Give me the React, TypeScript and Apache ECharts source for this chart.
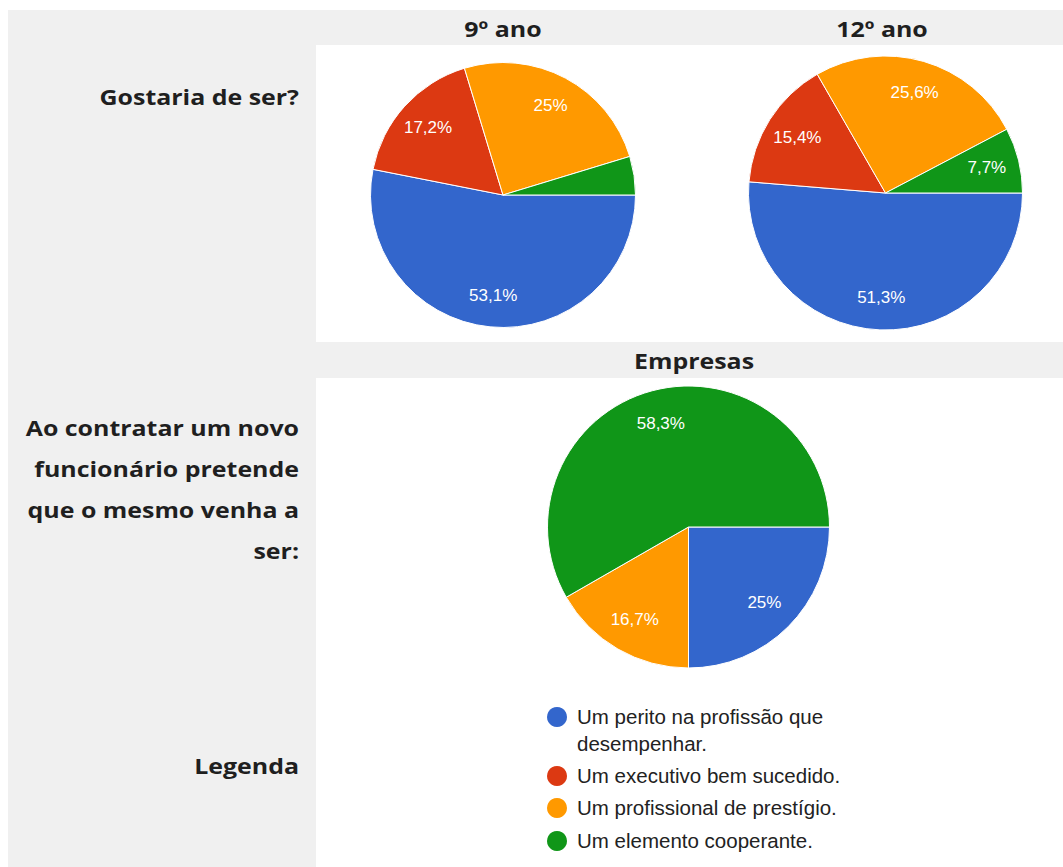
import React, { useEffect, useRef } from "react";
import * as echarts from "echarts";

// ---- data ----
const categories = [
  "Um perito na profissão que desempenhar.",
  "Um executivo bem sucedido.",
  "Um profissional de prestígio.",
  "Um elemento cooperante.",
];
const legendLines = [
  ["Um perito na profissão que", "desempenhar."],
  ["Um executivo bem sucedido."],
  ["Um profissional de prestígio."],
  ["Um elemento cooperante."],
];
const sliceColors = ["#3366cc", "#dc3912", "#ff9900", "#109618"];
const values9ano = [53.1, 17.2, 25, 4.7];
const values12ano = [51.3, 15.4, 25.6, 7.7];
const valuesEmpresas = [25, 0, 16.7, 58.3];
const columnTitles = ["9º ano", "12º ano", "Empresas"];
const rowLabel1 = ["Gostaria de ser?"];
const rowLabel2 = ["Ao contratar um novo", "funcionário pretende", "que o mesmo venha a", "ser:"];
const rowLabel3 = ["Legenda"];

const BOLD_FONT = "'Open Sans', sans-serif";
const CHART_FONT = "'Liberation Sans', Arial, sans-serif";

function fmt(v: number) {
  return String(v).replace(".", ",") + "%";
}

function pieSeries(values: number[], center: number[], r: number) {
  const data = values.map((v, i) => ({
    name: categories[i],
    value: v,
    itemStyle: { color: sliceColors[i] },
  }));
  return [
    {
      type: "pie",
      center,
      radius: [0, r],
      startAngle: 0,
      clockwise: true,
      silent: true,
      label: { show: false },
      labelLine: { show: false },
      itemStyle: { borderColor: "#ffffff", borderWidth: 1 },
      data,
    },
    {
      type: "pie",
      center,
      radius: [r * 0.48, r],
      startAngle: 0,
      clockwise: true,
      silent: true,
      z: 5,
      itemStyle: { color: "rgba(0,0,0,0)", borderWidth: 0 },
      label: {
        show: true,
        position: "inside",
        color: "#ffffff",
        fontFamily: CHART_FONT,
        fontSize: 17,
        formatter: (p: any) => (p.value >= 5 ? fmt(p.value) : ""),
      },
      labelLine: { show: false },
      data: values.map((v, i) => ({ name: categories[i], value: v })),
    },
  ];
}

export default function App() {
  const ref = useRef<HTMLDivElement>(null);
  useEffect(() => {
    if (!ref.current) return;
    const chart = echarts.init(ref.current, null, { renderer: "svg" });

    const boldText = (text: string, x: number, y: number, align: string) => ({
      type: "text",
      x,
      y,
      z: 10,
      scaleX: 1.16,
      style: {
        text,
        fontFamily: BOLD_FONT,
        fontWeight: "bold",
        fontSize: 21.5,
        fill: "#1f1f1f",
        align,
        verticalAlign: "middle",
      },
    });

    const graphics: any[] = [
      { type: "rect", shape: { x: 8, y: 10, width: 1055, height: 857 }, style: { fill: "#f0f0f0" }, z: -10 },
      { type: "rect", shape: { x: 316, y: 45, width: 747, height: 297 }, style: { fill: "#ffffff" }, z: -9 },
      { type: "rect", shape: { x: 316, y: 378, width: 747, height: 489 }, style: { fill: "#ffffff" }, z: -9 },
      boldText(columnTitles[0], 503, 29, "center"),
      boldText(columnTitles[1], 882, 29, "center"),
      boldText(columnTitles[2], 694, 361, "center"),
    ];
    rowLabel1.forEach((t, i) => graphics.push(boldText(t, 299, 97 + i * 41, "right")));
    rowLabel2.forEach((t, i) => graphics.push(boldText(t, 299, 428 + i * 41, "right")));
    rowLabel3.forEach((t, i) => graphics.push(boldText(t, 299, 766 + i * 41, "right")));

    const legendY = [716, 775, 807, 840];
    legendLines.forEach((lines, i) => {
      graphics.push({
        type: "circle",
        shape: { cx: 557, cy: legendY[i] + 1, r: 10 },
        style: { fill: sliceColors[i] },
      });
      lines.forEach((t, j) => {
        graphics.push({
          type: "text",
          x: 577,
          y: legendY[i] + j * 27,
          style: {
            text: t,
            fontFamily: CHART_FONT,
            fontSize: 20.5,
            fill: "#222222",
            align: "left",
            verticalAlign: "middle",
          },
        });
      });
    });

    chart.setOption({
      animation: false,
      backgroundColor: "#ffffff",
      graphic: graphics,
      series: [
        ...pieSeries(values9ano, [503, 195], 132.5),
        ...pieSeries(values12ano, [885.5, 193], 137),
        ...pieSeries(valuesEmpresas, [688.5, 527], 141),
      ],
    });
    return () => chart.dispose();
  }, []);
  return (
    <div
      ref={ref}
      style={{ position: "fixed", left: 0, top: 0, width: 1063, height: 867 }}
    />
  );
}
